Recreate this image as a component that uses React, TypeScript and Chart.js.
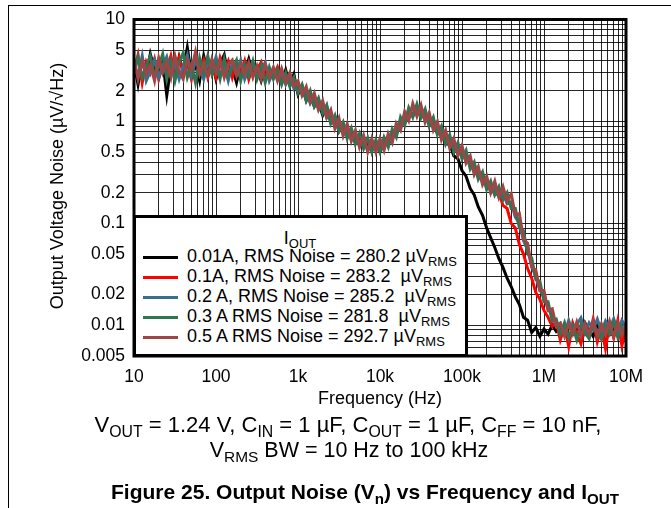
import React, { useEffect, useRef } from 'react';
import { Chart, registerables } from 'chart.js';

Chart.register(...registerables);

// Frequency (Hz) of each measured point
const frequencies = [
  10, 11.2, 12.6, 14.1, 15.8, 17.8, 20, 22.4, 25.1, 28.2, 31.6, 35.5, 39.8, 44.7, 50.1, 56.2, 63.1, 70.8, 79.4, 89.1,
  100, 112, 126, 141, 158, 178, 200, 224, 251, 282, 316, 355, 398, 447, 501, 562, 631, 708, 794, 891,
  1000, 1120, 1260, 1410, 1580, 1780, 2000, 2240, 2510, 2820, 3160, 3550, 3980, 4470, 5010, 5620, 6310, 7080, 7940, 8910,
  10000, 11200, 12600, 14100, 15800, 17800, 20000, 22400, 25100, 28200, 31600, 35500, 39800, 44700, 50100, 56200, 63100, 70800, 79400, 89100,
  100000, 112000, 126000, 141000, 158000, 178000, 200000, 224000, 251000, 282000, 316000, 355000, 398000, 447000, 501000, 562000, 631000, 708000, 794000, 891000,
  1000000, 1120000, 1260000, 1410000, 1580000, 1780000, 2000000, 2240000, 2510000, 2820000, 3160000, 3550000, 3980000, 4470000, 5010000, 5620000, 6310000, 7080000, 7940000, 8910000,
  10000000,
];

// Output voltage noise (uV/sqrt(Hz)) per load current
const noise001A = [
  3.8, 2.3, 4.0, 2.9, 4.6, 3.2, 2.7, 4.0, 1.8, 3.5, 2.8, 4.3, 3.1, 5.3, 2.9, 3.6, 2.5, 4.4, 3.0, 3.9,
  2.6, 3.7, 4.5, 2.8, 3.4, 2.4, 3.6, 3.0, 4.1, 2.9, 3.3, 2.5, 3.5, 3.0, 2.7, 3.1, 2.4, 3.2, 2.3, 2.9,
  1.85, 2.25, 1.6, 1.9, 1.4, 1.55, 1.15, 1.4, 0.98, 1.12, 0.8, 0.94, 0.72, 0.8, 0.61, 0.72, 0.56, 0.64, 0.52, 0.6,
  0.5, 0.63, 0.58, 0.76, 0.74, 1.0, 0.95, 1.25, 1.12, 1.4, 1.1, 1.22, 0.92, 1.0, 0.76, 0.8, 0.6, 0.6, 0.46, 0.43,
  0.33, 0.29, 0.22, 0.19, 0.145, 0.12, 0.09, 0.072, 0.058, 0.045, 0.037, 0.029, 0.024, 0.019, 0.016, 0.012, 0.0112, 0.0085, 0.0095, 0.0078,
  0.0092, 0.0082, 0.0101, 0.0087, 0.0095, 0.0083, 0.0104, 0.0088, 0.0097, 0.0082, 0.0106, 0.009, 0.0078, 0.0101, 0.0086, 0.0068, 0.0099, 0.0084, 0.0102, 0.0088, 0.0096,
];
const noise01A = [
  3.1, 4.5, 2.4, 3.8, 3.0, 4.1, 2.6, 3.6, 3.2, 4.4, 2.9, 4.2, 3.0, 3.7, 2.6, 4.5, 3.1, 4.0, 2.7, 3.6,
  2.7, 4.2, 3.1, 3.9, 2.7, 3.8, 2.9, 3.9, 2.6, 3.5, 3.2, 3.8, 2.7, 3.3, 2.8, 3.4, 2.5, 2.9, 2.4, 2.6,
  2.0, 2.2, 1.7, 1.85, 1.5, 1.6, 1.25, 1.35, 1.02, 1.1, 0.84, 0.92, 0.73, 0.8, 0.64, 0.71, 0.57, 0.66, 0.53, 0.63,
  0.54, 0.66, 0.6, 0.8, 0.75, 1.04, 0.98, 1.3, 1.15, 1.42, 1.12, 1.26, 0.95, 1.05, 0.8, 0.86, 0.64, 0.7, 0.53, 0.58,
  0.45, 0.49, 0.36, 0.38, 0.28, 0.3, 0.22, 0.24, 0.19, 0.2, 0.15, 0.14, 0.1, 0.09, 0.062, 0.05, 0.036, 0.029, 0.021, 0.018,
  0.014, 0.012, 0.0098, 0.0108, 0.0072, 0.0098, 0.0062, 0.0105, 0.0083, 0.0066, 0.0101, 0.0078, 0.0115, 0.0069, 0.0096, 0.0059, 0.0104, 0.0075, 0.0112, 0.0063, 0.0093,
];
const noise02A = [
  3.6, 2.8, 4.4, 2.5, 3.1, 4.0, 2.7, 3.5, 4.3, 3.0, 3.7, 2.6, 3.5, 4.5, 2.8, 3.9, 3.3, 2.6, 3.8, 3.2,
  4.3, 2.8, 3.5, 2.5, 3.7, 3.1, 4.0, 2.6, 3.3, 3.8, 2.7, 3.2, 3.8, 2.5, 3.1, 2.7, 2.9, 2.3, 2.8, 2.1,
  2.4, 1.9, 1.95, 1.5, 1.75, 1.3, 1.45, 1.08, 1.2, 0.88, 1.0, 0.76, 0.88, 0.66, 0.76, 0.58, 0.68, 0.52, 0.64, 0.52,
  0.63, 0.56, 0.7, 0.66, 0.9, 0.86, 1.18, 1.08, 1.4, 1.2, 1.36, 1.02, 1.15, 0.86, 0.94, 0.7, 0.77, 0.58, 0.64, 0.49,
  0.54, 0.41, 0.43, 0.32, 0.33, 0.25, 0.27, 0.2, 0.23, 0.18, 0.2, 0.155, 0.16, 0.115, 0.1, 0.068, 0.055, 0.038, 0.03, 0.022,
  0.019, 0.0145, 0.0125, 0.0098, 0.0105, 0.0082, 0.0112, 0.0086, 0.0102, 0.0118, 0.0084, 0.0106, 0.0091, 0.0115, 0.0087, 0.011, 0.0093, 0.0116, 0.0088, 0.0112, 0.0095,
];
const noise03A = [
  2.9, 4.3, 2.7, 3.5, 4.4, 2.8, 3.4, 4.6, 2.6, 3.9, 2.5, 3.8, 4.7, 2.7, 3.6, 2.4, 4.2, 3.0, 4.4, 2.9,
  3.7, 2.6, 4.1, 2.8, 3.3, 4.0, 2.5, 3.6, 2.8, 3.9, 2.6, 3.5, 2.4, 3.4, 2.6, 3.2, 2.3, 3.0, 2.2, 2.7,
  1.9, 2.3, 1.6, 2.0, 1.4, 1.7, 1.2, 1.45, 0.95, 1.15, 0.8, 0.98, 0.68, 0.86, 0.6, 0.76, 0.54, 0.69, 0.5, 0.66,
  0.5, 0.7, 0.56, 0.84, 0.7, 1.1, 0.92, 1.36, 1.1, 1.48, 1.08, 1.32, 0.9, 1.1, 0.74, 0.9, 0.6, 0.74, 0.5, 0.62,
  0.43, 0.52, 0.34, 0.4, 0.27, 0.32, 0.215, 0.26, 0.19, 0.23, 0.17, 0.2, 0.14, 0.14, 0.09, 0.085, 0.05, 0.046, 0.028, 0.027,
  0.017, 0.017, 0.011, 0.0115, 0.0082, 0.0106, 0.0075, 0.0098, 0.0072, 0.0101, 0.0085, 0.0074, 0.0103, 0.0088, 0.0073, 0.0099, 0.0082, 0.0107, 0.0076, 0.0097, 0.0084,
];
const noise05A = [
  4.1, 2.6, 3.9, 2.9, 3.6, 2.5, 4.2, 3.0, 3.8, 2.7, 4.4, 3.1, 2.6, 4.0, 3.2, 4.8, 2.9, 3.7, 2.8, 4.1,
  3.0, 3.9, 2.7, 3.6, 4.0, 2.8, 3.7, 2.9, 3.8, 2.7, 3.5, 2.6, 3.6, 2.7, 3.4, 2.5, 3.3, 2.4, 3.0, 2.2,
  2.5, 1.8, 2.2, 1.55, 1.9, 1.3, 1.6, 1.1, 1.3, 0.85, 1.08, 0.72, 0.95, 0.64, 0.82, 0.56, 0.73, 0.5, 0.68, 0.5,
  0.68, 0.52, 0.76, 0.62, 0.96, 0.82, 1.25, 1.02, 1.5, 1.12, 1.45, 0.98, 1.22, 0.82, 1.0, 0.66, 0.82, 0.55, 0.68, 0.46,
  0.58, 0.39, 0.46, 0.3, 0.36, 0.24, 0.29, 0.2, 0.26, 0.18, 0.23, 0.165, 0.195, 0.12, 0.125, 0.07, 0.064, 0.037, 0.035, 0.022,
  0.022, 0.014, 0.0145, 0.0098, 0.0105, 0.0078, 0.0102, 0.0082, 0.0108, 0.0079, 0.0104, 0.0083, 0.011, 0.0078, 0.0103, 0.0081, 0.0109, 0.0077, 0.0105, 0.008, 0.0102,
];

const seriesLabels = [
  '0.01A, RMS Noise = 280.2 µV',
  '0.1A, RMS Noise = 283.2  µV',
  '0.2 A, RMS Noise = 285.2  µV',
  '0.3 A RMS Noise = 281.8  µV',
  '0.5 A RMS Noise = 292.7 µV',
];
const seriesColors = ['#000000', '#ff0000', '#37708f', '#2f7551', '#a04545'];
const seriesValues = [noise001A, noise01A, noise02A, noise03A, noise05A];

const xTickValues = [10, 100, 1000, 10000, 100000, 1000000, 10000000];
const xTickLabels = ['10', '100', '1k', '10k', '100k', '1M', '10M'];
const yTickValues = [10, 5, 2, 1, 0.5, 0.2, 0.1, 0.05, 0.02, 0.01, 0.005];
const yTickLabels = ['10', '5', '2', '1', '0.5', '0.2', '0.1', '0.05', '0.02', '0.01', '0.005'];

const FONT = '"Liberation Sans", Arial, Helvetica, sans-serif';

function gridValues(decades: number[], min: number, max: number) {
  const out: number[] = [];
  for (const d of decades) {
    for (let m = 1; m <= 9; m++) {
      const v = d * m;
      if (v >= min * 0.999 && v <= max * 1.001) out.push(v);
    }
  }
  return out;
}
const xGrid = gridValues([10, 100, 1000, 10000, 100000, 1000000, 10000000], 10, 10000000);
const yGrid = gridValues([0.001, 0.01, 0.1, 1, 10], 0.005, 10);

function labelFor(v: number, values: number[], labels: string[]) {
  for (let i = 0; i < values.length; i++) {
    if (Math.abs(v - values[i]) / values[i] < 1e-6) return labels[i];
  }
  return '';
}

const frameBorder = {
  id: 'frameBorder',
  afterDatasetsDraw(chart: any) {
    const { ctx, chartArea } = chart;
    ctx.save();
    ctx.strokeStyle = '#000';
    ctx.lineWidth = 3;
    ctx.strokeRect(chartArea.left, chartArea.top, chartArea.right - chartArea.left, chartArea.bottom - chartArea.top);
    ctx.restore();
  },
};

const Sub = ({ children }: { children: React.ReactNode }) => (
  <span style={{ fontSize: '0.72em', position: 'relative', top: '0.32em' }}>{children}</span>
);

export default function App() {
  const canvasRef = useRef<HTMLCanvasElement>(null);

  useEffect(() => {
    const order = [4, 3, 2, 1, 0];
    const chart = new Chart(canvasRef.current as HTMLCanvasElement, {
      type: 'line',
      data: {
        datasets: seriesValues.map((vals, k) => ({
          label: seriesLabels[k],
          data: frequencies.map((f, i) => ({ x: f, y: vals[i] })),
          borderColor: seriesColors[k],
          backgroundColor: seriesColors[k],
          borderWidth: 3,
          pointRadius: 0,
          tension: 0,
          order: order[k],
        })),
      },
      options: {
        animation: false,
        responsive: false,
        events: [],
        layout: { padding: { left: 0, top: 17, right: 45, bottom: 122 } },
        plugins: { legend: { display: false }, tooltip: { enabled: false }, title: { display: false } },
        scales: {
          x: {
            type: 'logarithmic',
            min: 10,
            max: 10000000,
            afterBuildTicks: (s: any) => { s.ticks = xGrid.map((v) => ({ value: v })); },
            afterFit: (s: any) => { s.height = 30; },
            ticks: {
              autoSkip: false,
              maxRotation: 0,
              padding: 11,
              color: '#000',
              font: { family: FONT, size: 17.5 },
              callback: (v: any) => labelFor(Number(v), xTickValues, xTickLabels),
            },
            grid: { color: 'rgba(0,0,0,0.85)', lineWidth: 1, drawTicks: false },
            border: { display: false },
          },
          y: {
            type: 'logarithmic',
            min: 0.005,
            max: 10,
            afterBuildTicks: (s: any) => { s.ticks = yGrid.map((v) => ({ value: v })); },
            afterFit: (s: any) => { s.width = 134; },
            ticks: {
              autoSkip: false,
              padding: 9,
              color: '#000',
              font: { family: FONT, size: 17.5 },
              callback: (v: any) => labelFor(Number(v), yTickValues, yTickLabels),
            },
            grid: { color: 'rgba(0,0,0,0.85)', lineWidth: 1, drawTicks: false },
            border: { display: false },
          },
        },
      } as any,
      plugins: [frameBorder],
    });
    return () => chart.destroy();
  }, []);

  const rowCenters = [257, 277, 297, 317, 337];

  return (
    <div style={{ position: 'fixed', left: 0, top: 0, width: 671, height: 508, overflow: 'hidden', background: '#fff', color: '#000', fontFamily: FONT }}>
      <div style={{ position: 'absolute', left: 8, top: 5, width: 700, height: 600, borderLeft: '1px solid #000', borderTop: '1px solid #000' }} />
      <canvas ref={canvasRef} width={671} height={508} style={{ position: 'absolute', left: 0, top: 0, width: 671, height: 508 }} />

      {/* Y axis title */}
      <div style={{ position: 'absolute', left: 57 - 160, top: 186 - 10, width: 320, height: 20, lineHeight: '20px', fontSize: 18, textAlign: 'center', transform: 'rotate(-90deg)', whiteSpace: 'nowrap' }}>
        Output Voltage Noise (µV/√Hz)
      </div>

      {/* Legend */}
      <div style={{ position: 'absolute', left: 133, top: 215, width: 335, height: 142, boxSizing: 'border-box', border: '3px solid #000', background: '#fff' }} />
      <div style={{ position: 'absolute', left: 200, top: 228, width: 200, height: 20, lineHeight: '20px', fontSize: 18, textAlign: 'center' }}>
        I<Sub>OUT</Sub>
      </div>
      {seriesLabels.map((lab, k) => (
        <React.Fragment key={k}>
          <div style={{ position: 'absolute', left: 143, top: rowCenters[k] - 1.5, width: 35, height: 3, background: seriesColors[k] }} />
          <div style={{ position: 'absolute', left: 187, top: rowCenters[k] - 11, height: 20, lineHeight: '20px', fontSize: 18, whiteSpace: 'pre' }}>
            {lab}<Sub>RMS</Sub>
          </div>
        </React.Fragment>
      ))}

      {/* X axis title */}
      <div style={{ position: 'absolute', left: 230, top: 388, width: 300, height: 20, lineHeight: '20px', fontSize: 18, textAlign: 'center' }}>
        Frequency (Hz)
      </div>

      {/* Conditions */}
      <div style={{ position: 'absolute', left: 48, top: 412, width: 600, height: 26, lineHeight: '26px', fontSize: 22, textAlign: 'center', whiteSpace: 'nowrap' }}>
        V<Sub>OUT</Sub> = 1.24 V, C<Sub>IN</Sub> = 1 µF, C<Sub>OUT</Sub> = 1 µF, C<Sub>FF</Sub> = 10 nF,
      </div>
      <div style={{ position: 'absolute', left: 49, top: 437, width: 600, height: 26, lineHeight: '26px', fontSize: 21.5, textAlign: 'center', whiteSpace: 'nowrap' }}>
        V<Sub>RMS</Sub> BW = 10 Hz to 100 kHz
      </div>

      {/* Figure caption */}
      <div style={{ position: 'absolute', left: 65, top: 479, width: 600, height: 26, lineHeight: '26px', fontSize: 21, fontWeight: 'bold', textAlign: 'center', whiteSpace: 'nowrap' }}>
        Figure 25. Output Noise (V<Sub>n</Sub>) vs Frequency and I<Sub>OUT</Sub>
      </div>
    </div>
  );
}
